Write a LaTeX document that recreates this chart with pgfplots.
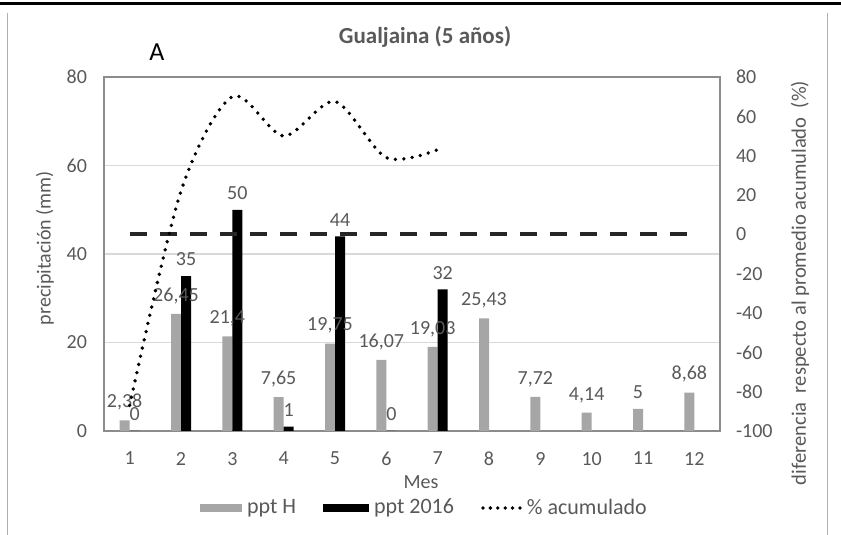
\documentclass[border=0pt]{standalone}
\usepackage{fontspec}
\setmainfont{Carlito}
\usepackage{pgfplots}
\pgfplotsset{compat=1.18}

\definecolor{txt}{HTML}{595959}
\definecolor{barH}{HTML}{A6A6A6}
\definecolor{grd}{HTML}{D9D9D9}
\definecolor{frm}{HTML}{8C8C8C}

\begin{document}
\begin{tikzpicture}[font=\fontsize{10}{12}\selectfont]
% page: 841 x 535 px at 0.5pt per px
\path[use as bounding box] (0,0) rectangle (420.5pt,267.5pt);
\draw[black, line width=1.6pt] (0,265.8pt) -- (420.5pt,265.8pt);
\draw[grd!80!black, line width=0.5pt] (3.8pt,0) -- (3.8pt,261pt);
\draw[grd!80!black, line width=0.5pt] (413.5pt,0) -- (413.5pt,261pt);

\begin{axis}[
  at={(52pt,52pt)}, anchor=south west,
  scale only axis, width=308pt, height=177pt,
  xmin=0.5, xmax=12.5, ymin=0, ymax=80,
  xtick={1,...,12}, ytick={0,20,...,80},
  major tick length=0pt,
  axis line style={frm, line width=0.6pt},
  ymajorgrids, grid style={grd, line width=0.6pt},
  tick label style={txt, font=\fontsize{10}{12}\selectfont},
  /pgf/number format/assume math mode=true,
  yticklabel style={xshift=-5pt},
  xticklabel style={yshift=-7pt},
  /pgf/number format/.cd, use comma, 1000 sep={},
  /pgfplots/.cd,
  ybar, bar width=5pt,
  nodes near coords,
  every node near coord/.append style={txt, font=\fontsize{10}{12}\selectfont, yshift=1.5pt},
  legend style={at={(0.521,-0.2175)}, anchor=center, draw=none, fill=none,
    legend columns=3, font=\fontsize{11}{13}\selectfont, text=txt,
    /tikz/every odd column/.append style={column sep=1pt},
    /tikz/every even column/.append style={column sep=12pt},
    nodes={inner sep=1.5pt}},
]
\addplot[fill=barH, draw=none, bar shift=-2.5pt,
  legend image code/.code={\fill[barH] (0pt,-1.8pt) rectangle (21pt,1.8pt);}]
  coordinates {(1,2.38) (2,26.45) (3,21.4) (4,7.65) (5,19.75) (6,16.07)
               (7,19.03) (8,25.43) (9,7.72) (10,4.14) (11,5) (12,8.68)};
\addlegendentry{ppt H}
\addplot[fill=black, draw=none, bar shift=2.5pt,
  legend image code/.code={\fill[black] (0pt,-1.8pt) rectangle (23pt,1.8pt);}]
  coordinates {(1,0) (2,35) (3,50) (4,1) (5,44) (6,0) (7,32)};
\addlegendentry{ppt 2016}
\addlegendimage{legend image code/.code={\draw[black, line width=1.9pt, line cap=round, dash pattern=on 0pt off 3.7pt] (0.5pt,0pt) -- (19pt,0pt);}}
\addlegendentry{\% acumulado}
\end{axis}

\begin{axis}[
  at={(52pt,52pt)}, anchor=south west,
  scale only axis, width=308pt, height=177pt,
  xmin=0.5, xmax=12.5, ymin=-100, ymax=80,
  ytick={-100,-80,...,80},
  axis y line*=right, axis x line=none,
  major tick length=0pt,
  axis line style={frm, line width=0.6pt},
  tick label style={txt, font=\fontsize{10}{12}\selectfont},
  /pgf/number format/assume math mode=true,
  yticklabel style={xshift=4.5pt},
]
\addplot[black!85, line width=2pt, dash pattern=on 8.5pt off 6.5pt]
  coordinates {(1,0) (12,0)};
\addplot[black, line width=1.9pt, line cap=round, dash pattern=on 0pt off 4.2pt,
  smooth, tension=0.5]
  coordinates {(1,-87) (2,22) (3,70) (4,50) (5,67.5) (6,39) (7,43)};
\end{axis}

\node[txt, font=\bfseries\fontsize{11.5}{14}\selectfont] at (212.5pt,249pt) {Gualjaina (5 años)};
\node[black, font=\fontsize{13}{15}\selectfont] at (78.5pt,241.5pt) {A};
\node[txt, rotate=90] at (22.5pt,143.5pt) {precipitación (mm)};
\node[txt, rotate=90, font=\fontsize{10.3}{12}\selectfont] at (400pt,126pt) {diferencia\ \ respecto al promedio acumulado\ \ (\%)};
\node[txt] at (210.5pt,26.5pt) {Mes};
\end{tikzpicture}
\end{document}
